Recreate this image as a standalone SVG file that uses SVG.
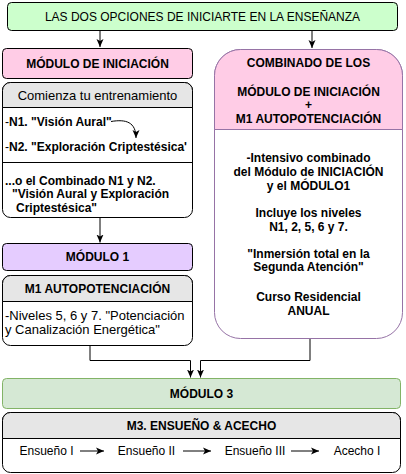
<svg xmlns="http://www.w3.org/2000/svg" width="406" height="474" viewBox="0 0 406 474">
<style>
text{font-family:"Liberation Sans",Arial,Helvetica,sans-serif;font-size:12px;fill:#000}
.b{font-weight:bold}
.n{font-weight:normal}
.c{text-anchor:middle}
.l{font-size:13px}
.box{stroke:#000;stroke-width:1}
.ln{fill:none;stroke:#000;stroke-width:1}
</style>
<defs>
<marker id="ah" markerWidth="10" markerHeight="10" refX="8" refY="4" orient="auto" markerUnits="userSpaceOnUse">
<path d="M0,0.5 L8,4 L0,7.5 L2,4 Z" fill="#000"/>
</marker>
</defs>

<g id="connectors">
<path class="ln" d="M100,30.5 V47" marker-end="url(#ah)"/>
<path class="ln" d="M312,30.5 V48" marker-end="url(#ah)"/>
<path class="ln" d="M100,217.5 V242.5" marker-end="url(#ah)"/>
<path class="ln" d="M90,345.5 V360.5 H190.5 V377.5" marker-end="url(#ah)"/>
<path class="ln" d="M310,338.5 V360.5 H200.5 V377.5" marker-end="url(#ah)"/>
</g>

<g id="titulo">
<rect class="box" x="7.5" y="2.5" width="390" height="28" rx="4" fill="#CCFFCC"/>
<text class="c" x="202.5" y="20.5">LAS DOS OPCIONES DE INICIARTE EN LA ENSEÑANZA</text>
</g>

<g id="modulo-iniciacion">
<rect class="box" x="2.5" y="48.5" width="190" height="30" rx="4" fill="#FFCCE6"/>
<text class="c b" x="97.5" y="67.5">MÓDULO DE INICIACIÓN</text>
</g>

<g id="comienza">
<rect class="box" x="2.5" y="82.5" width="190" height="135" rx="8" fill="#fff"/>
<path d="M2.5,107.5 V90.5 A8,8 0 0 1 10.5,82.5 H184.5 A8,8 0 0 1 192.5,90.5 V107.5 Z" fill="#E6E6E6" stroke="#000"/>
<line class="ln" x1="2.5" y1="162.5" x2="192.5" y2="162.5"/>
<text class="c l" x="97.5" y="99.5">Comienza tu entrenamiento</text>
<text class="b" x="5" y="125.5"><tspan class="n">-</tspan>N1. "Visión Aural"</text>
<text class="b" x="5" y="150.5"><tspan class="n">-</tspan>N2. "Exploración Criptestésica'</text>
<path class="ln" d="M111,121.5 C126,119 136,122 136,138" marker-end="url(#ah)"/>
<text class="b" x="5" y="184.5">...o el Combinado N1 y N2.</text>
<text class="b" x="12" y="198">"Visión Aural y Exploración</text>
<text class="b" x="16" y="211.5">Criptestésica"</text>
</g>

<g id="modulo-1">
<rect class="box" x="2.5" y="243.5" width="190" height="27" rx="4" fill="#E5CCFF"/>
<text class="c b" x="97.5" y="261">MÓDULO 1</text>
</g>

<g id="m1-autopotenciacion">
<rect class="box" x="2.5" y="275.5" width="190" height="70" rx="8" fill="#fff"/>
<path d="M2.5,301.5 V283.5 A8,8 0 0 1 10.5,275.5 H184.5 A8,8 0 0 1 192.5,283.5 V301.5 Z" fill="#E6E6E6" stroke="#000"/>
<text class="c b" x="97.5" y="292.5">M1 AUTOPOTENCIACIÓN</text>
<text class="l" x="5" y="319.5">-Niveles 5, 6 y 7. "Potenciación</text>
<text class="l" x="5" y="334">y Canalización Energética"</text>
</g>

<g id="combinado">
<rect x="214.5" y="49.5" width="188" height="289" rx="26" fill="#fff" stroke="#9673A6"/>
<path d="M214.5,129.5 V75.5 A26,26 0 0 1 240.5,49.5 H376.5 A26,26 0 0 1 402.5,75.5 V129.5 Z" fill="#FFCCE6" stroke="#9673A6"/>
<text class="c b" x="308.5" y="67">COMBINADO DE LOS</text>
<text class="c b" x="308.5" y="96">MÓDULO DE INICIACIÓN</text>
<text class="c b" x="308.5" y="108.5">+</text>
<text class="c b" x="308.5" y="123">M1 AUTOPOTENCIACIÓN</text>
<text class="c b" x="308.5" y="162">-Intensivo combinado</text>
<text class="c b" x="308.5" y="176">del Módulo de INICIACIÓN</text>
<text class="c b" x="308.5" y="189.5">y el MÓDULO1</text>
<text class="c b" x="308.5" y="217">Incluye los niveles</text>
<text class="c b" x="308.5" y="230.5">N1, 2, 5, 6 y 7.</text>
<text class="c b" x="308.5" y="257.5">"Inmersión total en la</text>
<text class="c b" x="308.5" y="271">Segunda Atención"</text>
<text class="c b" x="308.5" y="301">Curso Residencial</text>
<text class="c b" x="308.5" y="314.5">ANUAL</text>
</g>

<g id="modulo-3">
<rect x="2.5" y="378.5" width="398" height="30" rx="4" fill="#D5E8D4" stroke="#82B366"/>
<text class="c b" x="201.5" y="397.5">MÓDULO 3</text>
</g>

<g id="m3-ensueno-acecho">
<rect class="box" x="2.5" y="412.5" width="398" height="60" rx="8" fill="#fff"/>
<path d="M2.5,438.5 V420.5 A8,8 0 0 1 10.5,412.5 H392.5 A8,8 0 0 1 400.5,420.5 V438.5 Z" fill="#E6E6E6" stroke="#000"/>
<text class="c b" x="201.5" y="429.5">M3. ENSUEÑO &amp; ACECHO</text>
<text class="c" x="46.5" y="455">Ensueño I</text>
<text class="c" x="146.5" y="455">Ensueño II</text>
<text class="c" x="255" y="455">Ensueño III</text>
<text class="c" x="357" y="455">Acecho I</text>
<path class="ln" d="M80,451 H104" marker-end="url(#ah)"/>
<path class="ln" d="M183,451 H211" marker-end="url(#ah)"/>
<path class="ln" d="M291,451 H319" marker-end="url(#ah)"/>
</g>
</svg>
